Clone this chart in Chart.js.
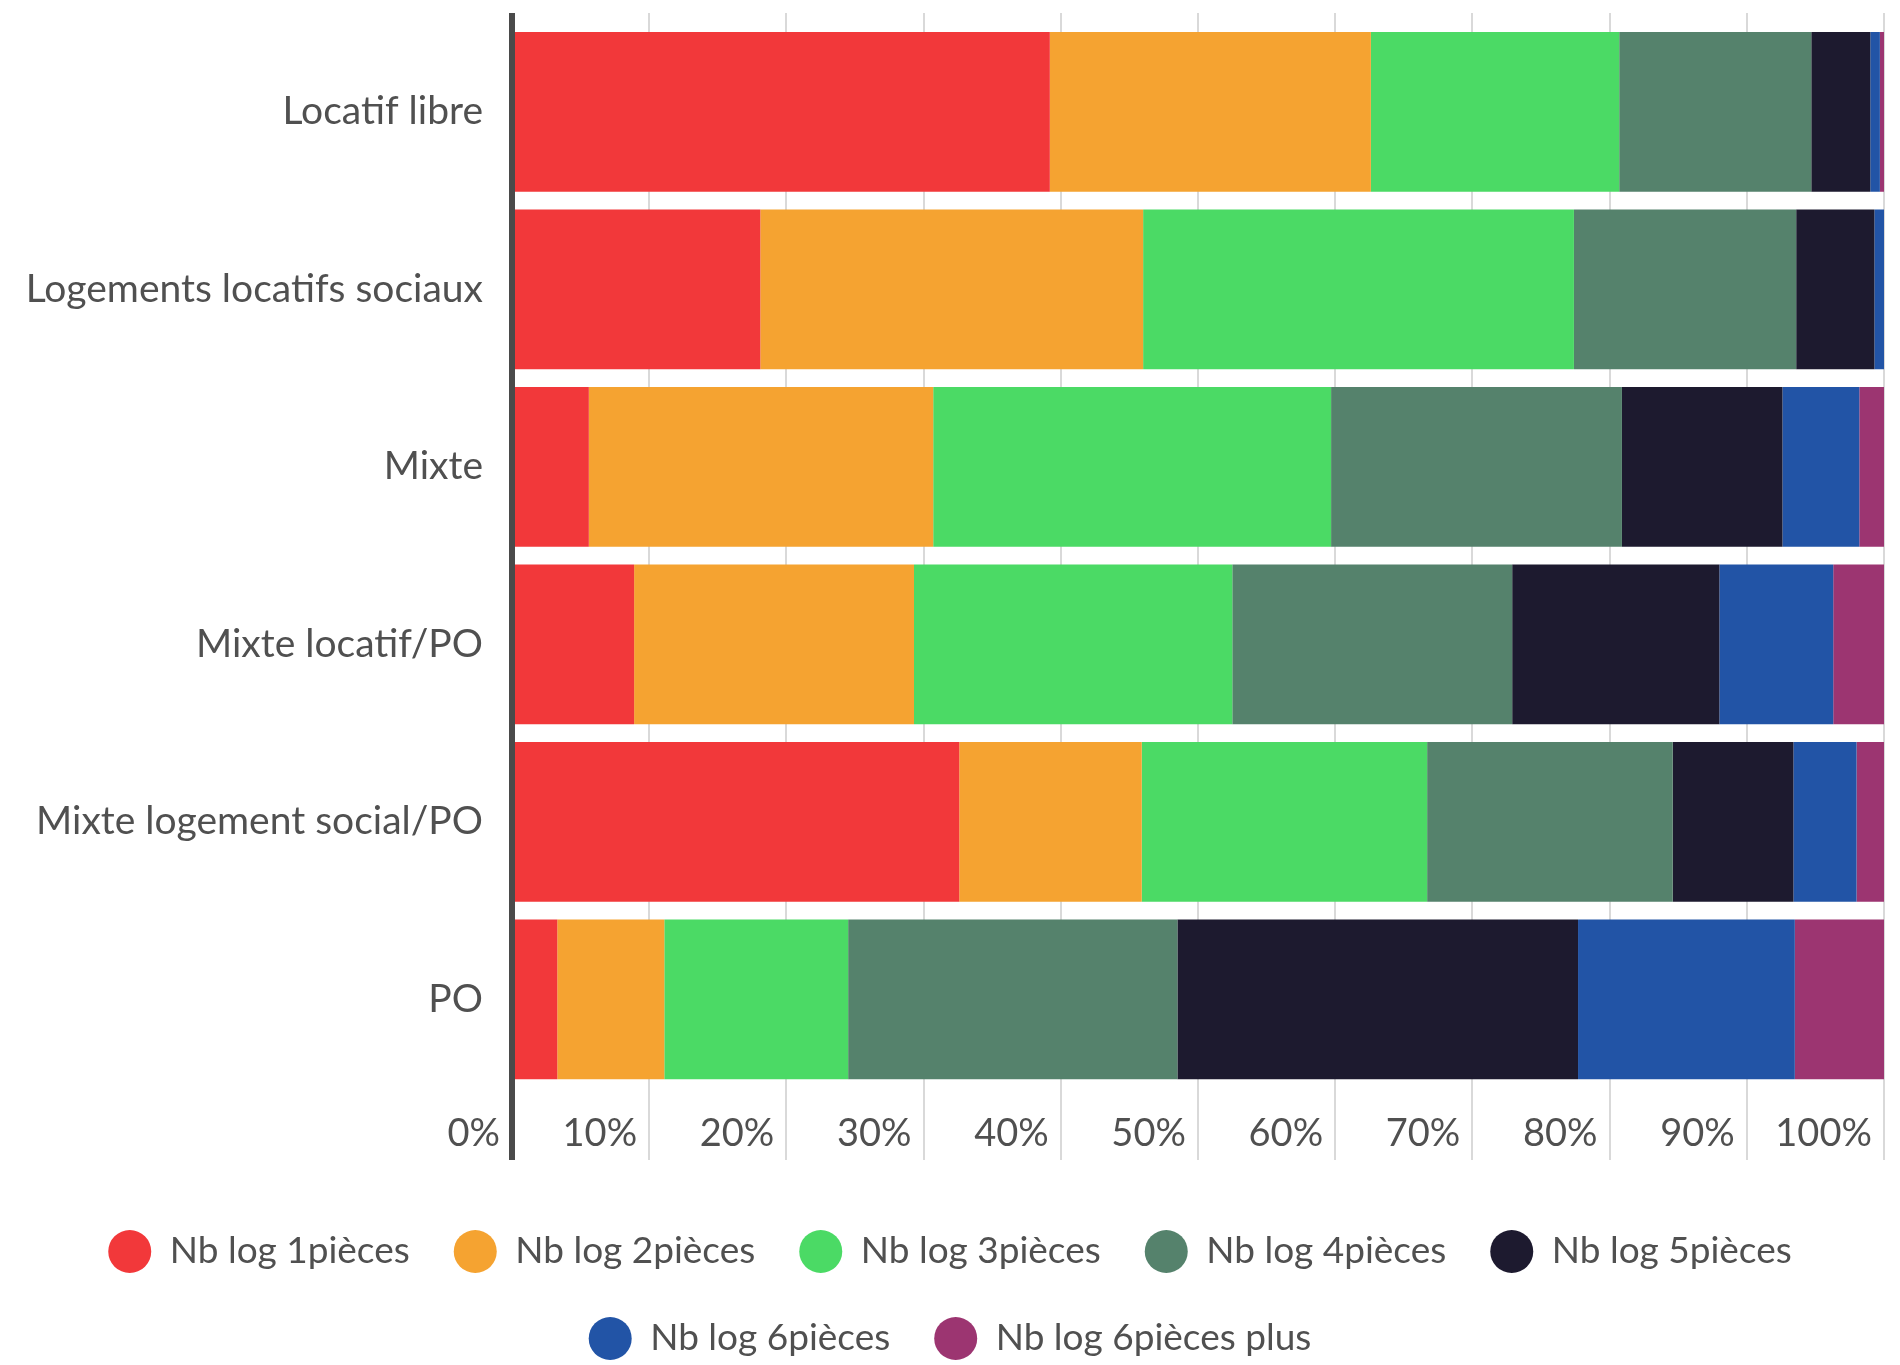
<!DOCTYPE html>
<html>
<head>
<meta charset="utf-8">
<title>Typologie des logements</title>
<script src="https://cdn.jsdelivr.net/npm/chart.js@4.4.1/dist/chart.umd.min.js"></script>
<style>
	html, body { margin: 0; padding: 0; background: #ffffff; }
	#chartBox { position: relative; width: 1900px; height: 1365px; }
</style>
</head>
<body>
<div id="chartBox"><canvas id="piecesChart"></canvas></div>
<script>
// Part of each housing type by number of rooms (percent of the row)
var categories = ['Locatif libre', 'Logements locatifs sociaux', 'Mixte', 'Mixte locatif/PO', 'Mixte logement social/PO', 'PO'];

var pieces1 = [39.2, 18.1, 5.6, 8.9, 32.6, 3.3];
var pieces2 = [23.4, 27.9, 25.1, 20.4, 13.3, 7.8];
var pieces3 = [18.1, 31.4, 29.0, 23.2, 20.8, 13.4];
var pieces4 = [14.0, 16.2, 21.2, 20.4, 17.9, 24.0];
var pieces5 = [4.3, 5.7, 11.7, 15.1, 8.8, 29.2];
var pieces6 = [0.7, 0.7, 5.6, 8.3, 4.6, 15.8];
var pieces6plus = [0.3, 0.0, 1.8, 3.7, 2.0, 6.5];

var seriesNames = ['Nb log 1pièces', 'Nb log 2pièces', 'Nb log 3pièces', 'Nb log 4pièces', 'Nb log 5pièces', 'Nb log 6pièces', 'Nb log 6pièces plus'];
var seriesValues = [pieces1, pieces2, pieces3, pieces4, pieces5, pieces6, pieces6plus];

var percentMin = 0;
var percentMax = 100;
var percentStep = 10;

var colors = {
	red: '#f2383a',
	orange: '#f5a331',
	green: '#4bda65',
	sage: '#55826c',
	navy: '#1d1a2f',
	blue: '#2254a6',
	plum: '#9c3571'
};
var seriesColors = [colors.red, colors.orange, colors.green, colors.sage, colors.navy, colors.blue, colors.plum];

var textColor = '#505050';
var axisColor = '#4a4a4a';
var gridColor = '#d9d9d9';

Chart.defaults.font.family = 'Lato, "Open Sans", sans-serif';
Chart.defaults.color = textColor;

// first vertical line (0%) is the dark axis, the others are light grid lines
function gridLineColor(ctx) {
	return ctx.index === 0 ? axisColor : gridColor;
}
function gridLineWidth(ctx) {
	return ctx.index === 0 ? 6 : 2;
}

var datasets = seriesNames.map(function (name, i) {
	return {
		label: name,
		data: seriesValues[i],
		backgroundColor: seriesColors[i],
		borderWidth: 0,
		categoryPercentage: 0.9,
		barPercentage: 1.0
	};
});

var config = {
	type: 'bar',
	data: {
		labels: categories,
		datasets: datasets
	},
	options: {
		indexAxis: 'y',
		responsive: true,
		maintainAspectRatio: false,
		animation: false,
		layout: {
			padding: { top: 13, right: 16, bottom: -5, left: 16 }
		},
		scales: {
			x: {
				type: 'linear',
				position: 'bottom',
				stacked: true,
				min: percentMin,
				max: percentMax,
				border: { display: false },
				grid: {
					color: gridLineColor,
					lineWidth: gridLineWidth,
					tickLength: 72
				},
				ticks: {
					stepSize: percentStep,
					align: 'end',
					padding: -49,
					maxRotation: 0,
					autoSkip: false,
					font: { size: 38 },
					callback: function (value) {
						// label sits just left of its grid line
						return value + '% \u200A';
					}
				},
				afterFit: function (scale) {
					scale.height = 98;
				}
			},
			xTop: {
				type: 'linear',
				position: 'top',
				min: percentMin,
				max: percentMax,
				border: { display: false },
				grid: {
					drawOnChartArea: false,
					color: gridLineColor,
					lineWidth: gridLineWidth,
					tickLength: 10
				},
				ticks: {
					stepSize: percentStep,
					display: false
				}
			},
			y: {
				type: 'category',
				stacked: true,
				border: { display: true, color: axisColor, width: 6, z: 1 },
				grid: { display: false, drawTicks: false },
				ticks: {
					padding: 29,
					font: { size: 39 }
				},
				afterFit: function (scale) {
					// fixed label column, and no extra room reserved above/below the bars
					scale.width = 496;
					scale.paddingTop = 0;
					scale.paddingBottom = 0;
				}
			}
		},
		plugins: {
			legend: {
				position: 'bottom',
				labels: {
					boxWidth: 43,
					boxHeight: 43,
					useBorderRadius: true,
					borderRadius: 21.5,
					padding: 44,
					color: textColor,
					font: { size: 37 }
				}
			},
			tooltip: { enabled: false }
		}
	}
};

var piecesChart = new Chart(document.getElementById('piecesChart'), config);
</script>
</body>
</html>
